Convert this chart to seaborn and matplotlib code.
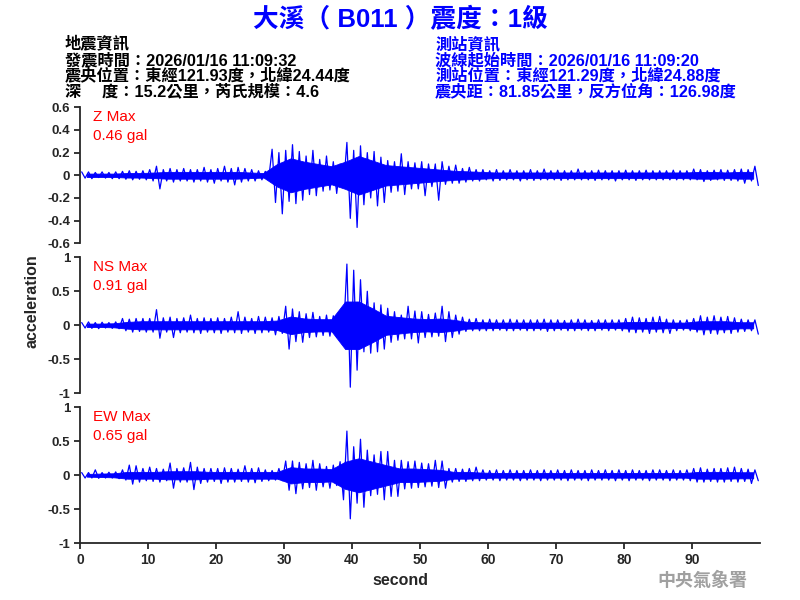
import numpy as np
import pandas as pd
import matplotlib
matplotlib.use("Agg")
import matplotlib.pyplot as plt
import seaborn as sns

# peak values per 1-second window (gal)
Z_HI = [0.03, 0.03, 0.025, 0.03, 0.025, 0.03, 0.035, 0.04, 0.035, 0.04,
        0.05, 0.08, 0.05, 0.06, 0.05, 0.06, 0.05, 0.05, 0.07, 0.05,
        0.06, 0.08, 0.06, 0.07, 0.06, 0.05, 0.04, 0.035, 0.23, 0.2,
        0.22, 0.27, 0.21, 0.17, 0.22, 0.14, 0.17, 0.12, 0.1, 0.29,
        0.22, 0.26, 0.2, 0.21, 0.16, 0.13, 0.12, 0.19, 0.12, 0.11,
        0.12, 0.1, 0.1, 0.12, 0.08, 0.09, 0.06, 0.07, 0.05, 0.05,
        0.04, 0.05, 0.04, 0.05, 0.04, 0.04, 0.05, 0.04, 0.055, 0.04,
        0.045, 0.04, 0.04, 0.055, 0.04, 0.04, 0.045, 0.04, 0.04, 0.04,
        0.045, 0.04, 0.04, 0.045, 0.04, 0.04, 0.04, 0.045, 0.04, 0.04,
        0.055, 0.05, 0.04, 0.045, 0.05, 0.045, 0.05, 0.055, 0.05, 0.08]
Z_LO = [-0.025, -0.03, -0.02, -0.025, -0.03, -0.03, -0.035, -0.04, -0.035, -0.04,
        -0.05, -0.12, -0.05, -0.06, -0.05, -0.05, -0.06, -0.05, -0.06, -0.07,
        -0.05, -0.06, -0.085, -0.06, -0.05, -0.05, -0.04, -0.03, -0.24, -0.34,
        -0.23, -0.25, -0.22, -0.17, -0.18, -0.14, -0.13, -0.16, -0.1, -0.38,
        -0.46, -0.26, -0.2, -0.27, -0.24, -0.15, -0.14, -0.17, -0.12, -0.12,
        -0.18, -0.1, -0.22, -0.08, -0.07, -0.07, -0.06, -0.05, -0.05, -0.04,
        -0.05, -0.045, -0.04, -0.04, -0.05, -0.04, -0.045, -0.04, -0.04, -0.04,
        -0.045, -0.04, -0.04, -0.04, -0.04, -0.045, -0.04, -0.04, -0.05, -0.04,
        -0.04, -0.045, -0.04, -0.04, -0.04, -0.04, -0.04, -0.04, -0.04, -0.04,
        -0.04, -0.055, -0.045, -0.04, -0.045, -0.045, -0.05, -0.07, -0.05, -0.09]

NS_HI = [0.04, 0.05, 0.04, 0.045, 0.04, 0.05, 0.1, 0.09, 0.1, 0.1,
         0.1, 0.23, 0.11, 0.12, 0.1, 0.11, 0.15, 0.1, 0.11, 0.1,
         0.11, 0.1, 0.12, 0.2, 0.12, 0.1, 0.13, 0.12, 0.11, 0.13,
         0.28, 0.24, 0.2, 0.17, 0.19, 0.13, 0.15, 0.14, 0.19, 0.9,
         0.81, 0.67, 0.5, 0.33, 0.3, 0.25, 0.2, 0.15, 0.28, 0.21,
         0.2, 0.16, 0.18, 0.28, 0.2, 0.15, 0.12, 0.09, 0.1, 0.08,
         0.09, 0.08, 0.08, 0.09, 0.08, 0.08, 0.08, 0.08, 0.09, 0.08,
         0.08, 0.07, 0.08, 0.09, 0.08, 0.07, 0.08, 0.08, 0.08, 0.08,
         0.1, 0.12, 0.11, 0.1, 0.12, 0.13, 0.09, 0.08, 0.07, 0.08,
         0.1, 0.14, 0.12, 0.14, 0.12, 0.13, 0.11, 0.09, 0.08, 0.08]
NS_LO = [-0.04, -0.045, -0.05, -0.04, -0.045, -0.05, -0.08, -0.1, -0.09, -0.1,
         -0.1, -0.19, -0.1, -0.18, -0.11, -0.1, -0.11, -0.12, -0.1, -0.11,
         -0.12, -0.1, -0.11, -0.12, -0.1, -0.12, -0.11, -0.1, -0.14, -0.12,
         -0.35, -0.24, -0.25, -0.18, -0.17, -0.15, -0.16, -0.18, -0.14, -0.91,
         -0.66, -0.39, -0.41, -0.39, -0.35, -0.25, -0.22, -0.2, -0.2, -0.26,
         -0.18, -0.17, -0.16, -0.24, -0.18, -0.13, -0.09, -0.08, -0.08, -0.08,
         -0.08, -0.07, -0.08, -0.08, -0.07, -0.08, -0.08, -0.07, -0.09, -0.08,
         -0.07, -0.08, -0.08, -0.07, -0.08, -0.08, -0.07, -0.08, -0.07, -0.08,
         -0.1, -0.11, -0.1, -0.12, -0.1, -0.11, -0.12, -0.08, -0.07, -0.08,
         -0.1, -0.14, -0.12, -0.13, -0.11, -0.12, -0.1, -0.09, -0.08, -0.13]

EW_HI = [0.04, 0.04, 0.08, 0.04, 0.045, 0.05, 0.08, 0.15, 0.14, 0.1,
         0.12, 0.1, 0.09, 0.18, 0.1, 0.11, 0.19, 0.12, 0.1, 0.1,
         0.1, 0.11, 0.1, 0.09, 0.14, 0.1, 0.11, 0.08, 0.07, 0.1,
         0.21, 0.21, 0.19, 0.17, 0.22, 0.17, 0.13, 0.15, 0.2, 0.65,
         0.42, 0.53, 0.37, 0.3, 0.35, 0.35, 0.22, 0.22, 0.2, 0.21,
         0.18, 0.17, 0.22, 0.21, 0.1, 0.1, 0.09, 0.1, 0.12, 0.08,
         0.07, 0.08, 0.07, 0.08, 0.07, 0.07, 0.08, 0.07, 0.08, 0.07,
         0.08, 0.07, 0.08, 0.07, 0.07, 0.08, 0.07, 0.08, 0.07, 0.08,
         0.07, 0.08, 0.07, 0.07, 0.08, 0.08, 0.07, 0.08, 0.07, 0.08,
         0.1, 0.11, 0.09, 0.1, 0.1, 0.11, 0.12, 0.1, 0.09, 0.08]
EW_LO = [-0.04, -0.04, -0.045, -0.04, -0.04, -0.05, -0.07, -0.13, -0.1, -0.08,
         -0.09, -0.1, -0.08, -0.19, -0.1, -0.1, -0.21, -0.12, -0.1, -0.09,
         -0.12, -0.1, -0.1, -0.09, -0.1, -0.11, -0.09, -0.08, -0.07, -0.08,
         -0.22, -0.27, -0.2, -0.18, -0.22, -0.17, -0.19, -0.15, -0.36, -0.64,
         -0.41, -0.47, -0.3, -0.28, -0.36, -0.31, -0.31, -0.2, -0.19, -0.18,
         -0.17, -0.16, -0.18, -0.19, -0.1, -0.09, -0.09, -0.08, -0.08, -0.07,
         -0.07, -0.08, -0.07, -0.07, -0.08, -0.07, -0.07, -0.08, -0.07, -0.07,
         -0.07, -0.08, -0.07, -0.07, -0.08, -0.07, -0.07, -0.07, -0.08, -0.07,
         -0.08, -0.07, -0.07, -0.08, -0.07, -0.07, -0.08, -0.07, -0.07, -0.08,
         -0.1, -0.1, -0.09, -0.1, -0.1, -0.09, -0.1, -0.09, -0.12, -0.08]

# half-width of the solid part of the trace, per 2-second window
Z_CORE = [0.015, 0.015, 0.015, 0.02, 0.02, 0.025, 0.03, 0.03, 0.03, 0.03,
          0.03, 0.03, 0.025, 0.02, 0.1, 0.15, 0.12, 0.1, 0.08, 0.12,
          0.17, 0.13, 0.09, 0.08, 0.07, 0.06, 0.05, 0.04, 0.035, 0.03,
          0.025, 0.025, 0.025, 0.025, 0.025, 0.025, 0.025, 0.025, 0.025, 0.025,
          0.025, 0.025, 0.025, 0.025, 0.025, 0.03, 0.03, 0.025, 0.03, 0.03]
NS_CORE = [0.025, 0.025, 0.03, 0.05, 0.06, 0.06, 0.06, 0.06, 0.06, 0.06,
           0.06, 0.06, 0.06, 0.06, 0.07, 0.13, 0.1, 0.09, 0.09, 0.35,
           0.35, 0.25, 0.14, 0.12, 0.1, 0.09, 0.1, 0.08, 0.05, 0.045,
           0.04, 0.04, 0.04, 0.04, 0.04, 0.04, 0.04, 0.04, 0.04, 0.04,
           0.05, 0.05, 0.05, 0.04, 0.04, 0.06, 0.06, 0.06, 0.045, 0.045]
EW_CORE = [0.02, 0.025, 0.03, 0.05, 0.05, 0.05, 0.06, 0.06, 0.06, 0.05,
           0.05, 0.05, 0.05, 0.05, 0.05, 0.12, 0.1, 0.1, 0.09, 0.2,
           0.25, 0.2, 0.15, 0.1, 0.1, 0.09, 0.08, 0.05, 0.05, 0.04,
           0.035, 0.035, 0.035, 0.035, 0.035, 0.035, 0.035, 0.035, 0.035, 0.035,
           0.035, 0.035, 0.035, 0.035, 0.035, 0.05, 0.05, 0.05, 0.045, 0.045]

CHANNELS = ["Z", "NS", "EW"]
MAX_GAL = ["0.46", "0.91", "0.65"]
Y_TICKS = [[-0.6, -0.4, -0.2, 0, 0.2, 0.4, 0.6],
           [-1, -0.5, 0, 0.5, 1],
           [-1, -0.5, 0, 0.5, 1]]
X_TICKS = [0, 10, 20, 30, 40, 50, 60, 70, 80, 90]

TITLE = "大溪（ B011 ）震度：1級"
QUAKE_INFO = ["地震資訊",
              "發震時間：2026/01/16 11:09:32",
              "震央位置：東經121.93度，北緯24.44度",
              "深　 度：15.2公里，芮氏規模：4.6"]
STATION_INFO = ["測站資訊",
                "波線起始時間：2026/01/16 11:09:20",
                "測站位置：東經121.29度，北緯24.88度",
                "震央距：81.85公里，反方位角：126.98度"]

FONTS = ["Liberation Sans", "Noto Sans CJK TC"]
BLUE = "#0000ff"


def peak_frame(hi, lo):
    # alternate the upper and lower peak of each 1 s window
    sec = np.arange(len(hi))
    t = np.column_stack([sec + 0.25, sec + 0.75]).ravel()
    acc = np.column_stack([hi, lo]).ravel()
    return pd.DataFrame({"second": t, "acceleration": acc})


def draw_panel(ax, hi, lo, core, ticks, name, peak, last):
    core = np.asarray(core)
    tc = np.arange(len(core)) * 2 + 1
    ax.fill_between(tc, -core, core, color=BLUE, linewidth=0.6)
    sns.lineplot(data=peak_frame(hi, lo), x="second", y="acceleration", ax=ax,
                 color=BLUE, linewidth=0.9, estimator=None, sort=False)
    ax.set_xlim(0, 100)
    ax.set_ylim(ticks[0], ticks[-1])
    ax.set_yticks(ticks)
    ax.set_yticklabels([f"{v:g}" for v in ticks])
    ax.set_xlabel("")
    ax.set_ylabel("")
    sns.despine(ax=ax, bottom=not last)
    if last:
        ax.set_xticks(X_TICKS)
        ax.set_xticklabels([str(v) for v in X_TICKS])
    else:
        ax.set_xticks([])
    ax.tick_params(length=4, width=1.3, pad=3, labelsize=10)
    ax.tick_params(axis="y", labelsize=9.5)
    for lab in ax.get_xticklabels() + ax.get_yticklabels():
        lab.set_fontweight("bold")
    for sp in ax.spines.values():
        sp.set_linewidth(1.3)
    ax.text(0.019, 0.929, f"{name} Max", transform=ax.transAxes,
            color="red", fontsize=11, va="center", ha="left")
    ax.text(0.019, 0.79, f"{peak} gal", transform=ax.transAxes,
            color="red", fontsize=11, va="center", ha="left")


sns.set_style("ticks")
plt.rcParams["font.family"] = FONTS
plt.rcParams["axes.unicode_minus"] = False

fig = plt.figure(figsize=(8, 6), dpi=100)
bottoms = [0.5945, 0.3445, 0.0945]
series = [(Z_HI, Z_LO, Z_CORE), (NS_HI, NS_LO, NS_CORE), (EW_HI, EW_LO, EW_CORE)]
for i, (b, (hi, lo, core)) in enumerate(zip(bottoms, series)):
    ax = fig.add_axes([0.1, b, 0.85, 0.2267])
    draw_panel(ax, hi, lo, core, Y_TICKS[i], CHANNELS[i], MAX_GAL[i], i == 2)

fig.text(0.5, 0.968, TITLE, ha="center", va="center", color=BLUE,
         fontsize=18.5, fontweight="bold")
for k, (a, b) in enumerate(zip(QUAKE_INFO, STATION_INFO)):
    y = 1 - (44.5 + 15.5 * k) / 600
    fig.text(0.08125, y, a, ha="left", va="center", color="black",
             fontsize=11.7, fontweight="bold")
    fig.text(0.544, y, b, ha="left", va="center", color=BLUE,
             fontsize=11.7, fontweight="bold")

fig.text(0.04, 0.498, "acceleration", rotation=90, ha="center", va="center",
         fontsize=11.5, fontweight="bold")
fig.text(0.5, 0.033, "second", ha="center", va="center",
         fontsize=11.5, fontweight="bold")
fig.text(0.878, 0.032, "中央氣象署", ha="center", va="center",
         color="#a0a0a0", fontsize=13, fontweight="bold")

fig.savefig("out.png", dpi=100)
plt.close(fig)
